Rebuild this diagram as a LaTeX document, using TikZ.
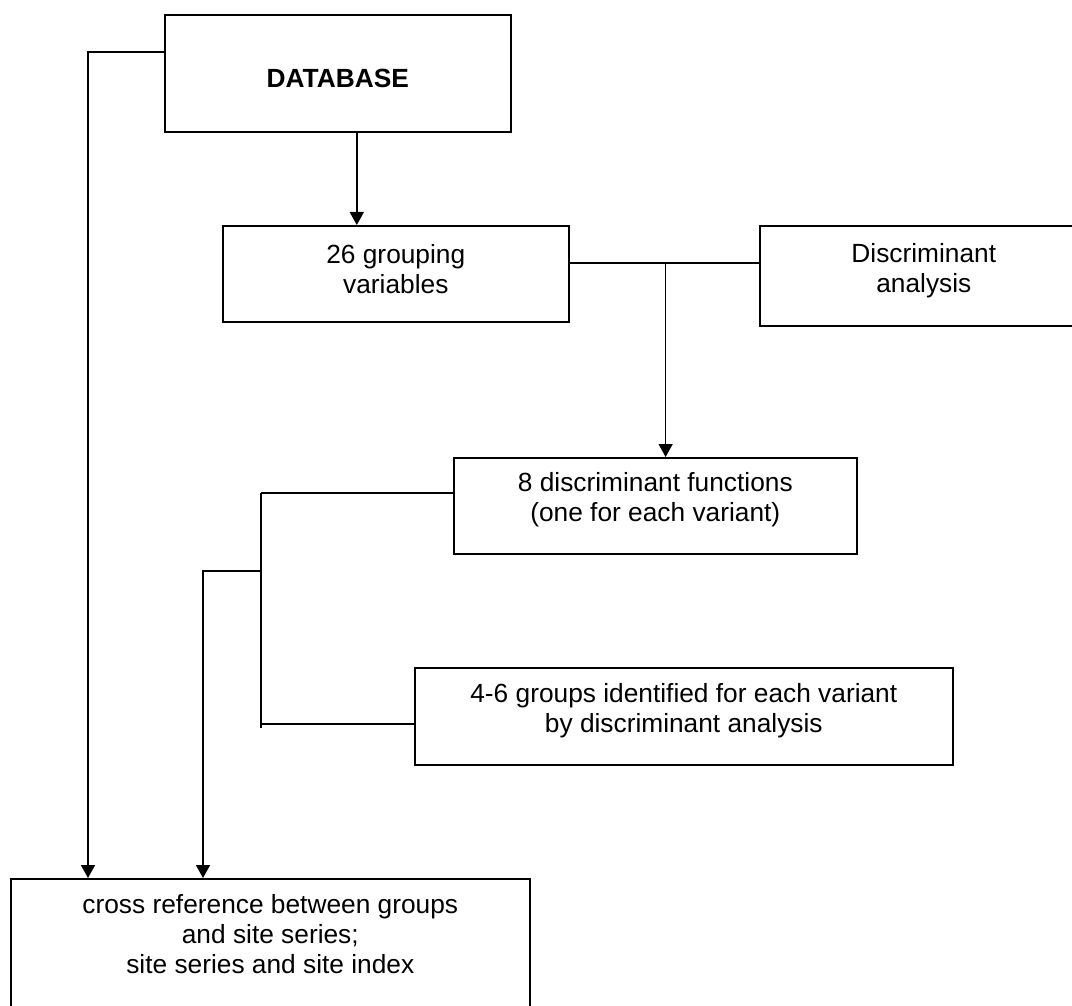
\documentclass[tikz,border=0pt]{standalone}
\usepackage{fontspec}
\setmainfont{Liberation Sans}
\usetikzlibrary{arrows.meta,positioning}

\tikzset{
  box/.style={draw, line width=1.6pt, inner sep=0pt, anchor=north west},
  lbl/.style={font=\fontsize{26.3}{30.2}\selectfont, align=center, inner sep=0pt},
  conn/.style={line width=1.6pt},
  arr/.style={conn, -{Triangle[length=13pt,width=14pt]}}
}

\begin{document}
\begin{tikzpicture}[x=1pt, y=-1pt]
  \useasboundingbox (0,0) rectangle (1072,1006);
  \clip (0,0) rectangle (1072,1006);

  % Boxes
  \node[box, minimum width=346pt, minimum height=117pt] (db) at (164,14) {};
  \node[box, minimum width=346pt, minimum height=96pt] (grp) at (222,225) {};
  \node[box, minimum width=328pt, minimum height=100pt] (da) at (759,225) {};
  \node[box, minimum width=403pt, minimum height=96pt] (df) at (453,457) {};
  \node[box, minimum width=538pt, minimum height=97pt] (gr) at (414,667) {};
  \node[box, minimum width=519pt, minimum height=150pt] (cr) at (10,878) {};

  % Box texts
  \node[lbl, font=\fontsize{26.3}{30.2}\selectfont\bfseries, below=55pt of db.north] (db-t) {DATABASE};
  \node[lbl, below=19pt of grp.north] (grp-t) {26 grouping\\variables};
  \node[lbl, below=18pt of da.north] (da-t) {Discriminant\\analysis};
  \node[lbl, below=15pt of df.north] (df-t) {8 discriminant functions\\(one for each variant)};
  \node[lbl, below=16pt of gr.north] (gr-t) {4-6 groups identified for each variant\\by discriminant analysis};
  \node[lbl, below=16pt of cr.north] (cr-t) {cross reference between groups\\and site series;\\site series and site index};

  % Branch points
  \coordinate (split) at ([xshift=96pt,yshift=-38pt]grp.north east);
  \coordinate (trunk) at ([xshift=-192pt,yshift=-36pt]df.north west);
  \coordinate (tap) at ([yshift=-57pt]gr.north west);
  \coordinate (fork) at ([yshift=-78pt]trunk);

  % DATABASE to cross reference (left side)
  \draw[arr] ([yshift=-38pt]db.north west) -| ([xshift=78pt]cr.north west);

  % DATABASE to grouping variables
  \draw[arr] ([xshift=19pt]db.south) -- ([xshift=19pt]db.south |- grp.north);

  % grouping variables -- discriminant analysis
  \draw[conn] ([yshift=-38pt]grp.north east) -- ([yshift=-38pt]da.north west);
  \draw[arr] (split) -- (split |- df.north);

  % discriminant functions and groups
  \draw[conn] (df.west |- trunk) -- (trunk);
  \draw[conn] (trunk) -- ([yshift=-4pt]trunk |- tap);
  \draw[conn] (trunk |- tap) -- (tap);

  % groups to cross reference
  \draw[arr] (fork) -| ([xshift=193pt]cr.north west);
\end{tikzpicture}
\end{document}
